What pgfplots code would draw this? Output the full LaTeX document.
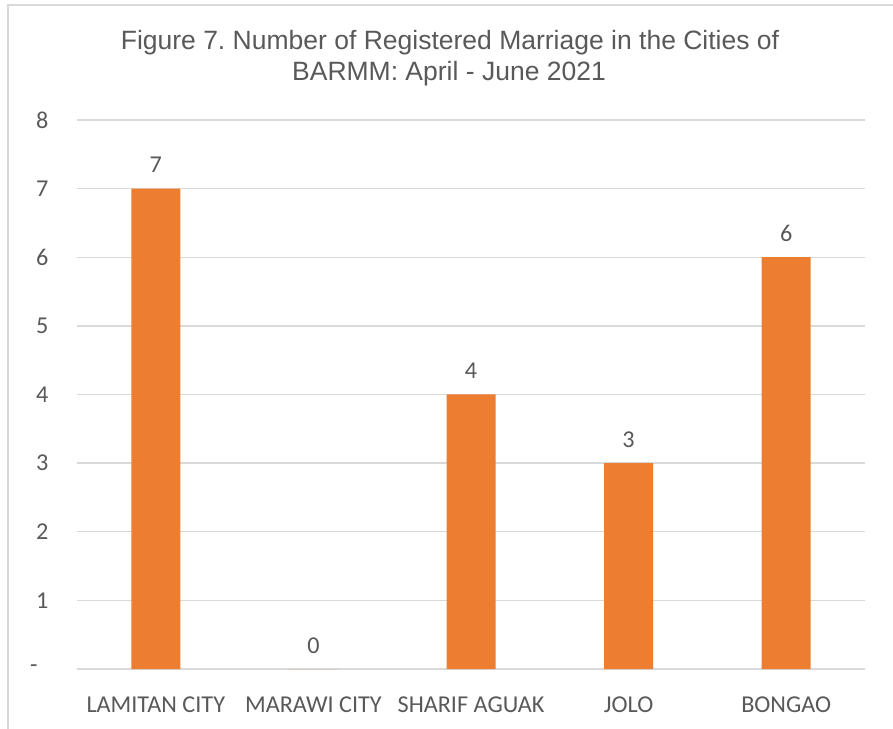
\documentclass[border=0pt]{standalone}
\usepackage{pgfplots}
\pgfplotsset{compat=1.18}
\usepackage{fontspec}
\setmainfont{Carlito}
\newfontfamily\titlefont{Liberation Sans}
\definecolor{barorange}{HTML}{ED7D31}
\definecolor{gridgray}{HTML}{D9D9D9}
\definecolor{textgray}{HTML}{595959}
\frenchspacing
\begin{document}
\begin{tikzpicture}
\useasboundingbox (0,0) rectangle (893pt,728pt);
\draw[gridgray, line width=1.5pt] (8pt,-2pt) -- (8pt,723pt) -- (895pt,723pt);
\node[font=\titlefont\fontsize{26.5}{31}\selectfont, text=textgray, anchor=base] at (450pt,678pt) {Figure 7. Number of Registered Marriage in the Cities of};
\node[font=\titlefont\fontsize{26.5}{31}\selectfont, text=textgray, anchor=base] at (449pt,647pt) {BARMM: April - June 2021};
\begin{axis}[
  at={(77pt,59pt)}, anchor=south west,
  width=788pt, height=549pt, scale only axis,
  xmin=-0.5, xmax=4.5, ymin=0, ymax=8,
  axis line style={draw=none},
  tick style={draw=none},
  ymajorgrids, major grid style={gridgray, line width=1.3pt},
  ytick={0,1,2,3,4,5,6,7,8},
  yticklabels={{-\rule{11pt}{0pt}},1,2,3,4,5,6,7,8},
  xtick={0,1,2,3,4},
  xticklabels={LAMITAN CITY, MARAWI CITY, SHARIF AGUAK, JOLO, BONGAO},
  /pgf/number format/assume math mode=true,
  ticklabel style={font=\fontsize{24.2}{29}\selectfont, text=textgray},
  yticklabel style={xshift=-25pt},
  xticklabel style={anchor=base, yshift=-39pt},
  ybar, bar width=49pt,
  nodes near coords,
  every node near coord/.append style={font=\fontsize{24.2}{29}\selectfont, text=textgray, anchor=base, inner sep=0pt, yshift=16pt},
]
\addplot[fill=barorange, draw=none] coordinates {(0,7) (1,0) (2,4) (3,3) (4,6)};
\end{axis}
\end{tikzpicture}
\end{document}
